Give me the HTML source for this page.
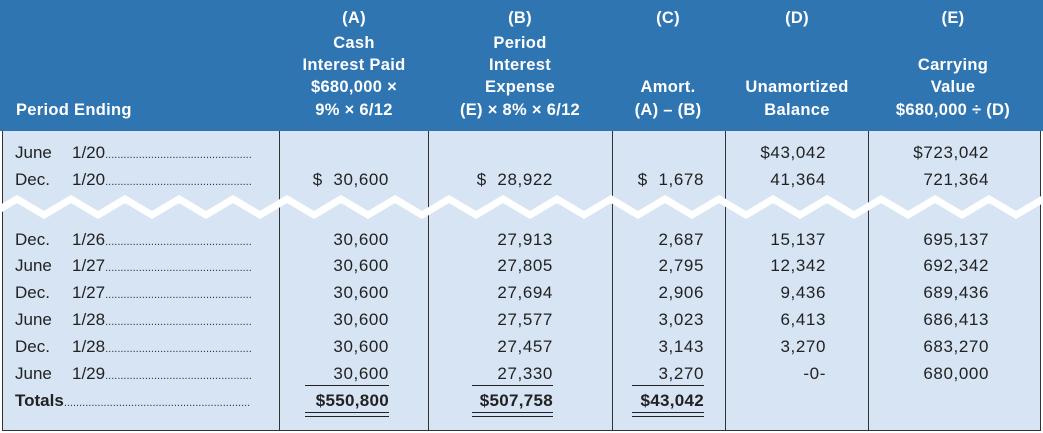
<!DOCTYPE html>
<html><head><meta charset="utf-8"><style>
body{margin:0;width:1043px;height:433px;overflow:hidden;background:#fff;font-family:"Liberation Sans",sans-serif;}
#t{position:absolute;left:0;top:0;width:1043px;height:433px;}
.hdr{position:absolute;left:0;top:0;width:1043px;height:131px;background:#2e75b1;}
.body{position:absolute;left:2px;top:131px;width:1037px;height:299px;background:#d6e4f4;border:1px solid #333;border-top:none;}
.vl{position:absolute;top:131px;height:300px;width:1px;background:#333;}
.h{position:absolute;color:#fff;font-weight:bold;font-size:16.5px;letter-spacing:0.3px;transform:translateX(-50%);white-space:nowrap;}
.c{position:absolute;font-size:17px;letter-spacing:0.6px;color:#222;white-space:nowrap;}
.r{transform:translateX(-100%);}
.lbl{position:absolute;left:15px;font-size:17px;color:#222;width:236px;overflow:hidden;white-space:nowrap;}
.lbl span.d{display:inline-block;width:57px;}
.dots{font-size:11px;color:#333;}
.ul{position:absolute;height:1px;background:#222;}
.dul{position:absolute;height:3px;border-top:1px solid #222;border-bottom:1px solid #222;}
</style></head><body>
<div id="t">
<div class="hdr"></div>
<div class="body"></div>
<div class="vl" style="left:279px"></div>
<div class="vl" style="left:428px"></div>
<div class="vl" style="left:612px"></div>
<div class="vl" style="left:725px"></div>
<div class="vl" style="left:868px"></div>

<div class="h" style="left:16px;top:101px;transform:none">Period Ending</div>

<div class="h" style="left:354px;top:9px">(A)</div>
<div class="h" style="left:354px;top:34px">Cash</div>
<div class="h" style="left:354px;top:56px">Interest Paid</div>
<div class="h" style="left:354px;top:78px">$680,000 ×</div>
<div class="h" style="left:354px;top:101px">9% × 6/12</div>

<div class="h" style="left:520px;top:9px">(B)</div>
<div class="h" style="left:520px;top:34px">Period</div>
<div class="h" style="left:520px;top:56px">Interest</div>
<div class="h" style="left:520px;top:78px">Expense</div>
<div class="h" style="left:520px;top:101px">(E) × 8% × 6/12</div>

<div class="h" style="left:668px;top:9px">(C)</div>
<div class="h" style="left:668px;top:78px">Amort.</div>
<div class="h" style="left:668px;top:101px">(A) – (B)</div>

<div class="h" style="left:797px;top:9px">(D)</div>
<div class="h" style="left:797px;top:78px">Unamortized</div>
<div class="h" style="left:797px;top:101px">Balance</div>

<div class="h" style="left:953px;top:9px">(E)</div>
<div class="h" style="left:953px;top:56px">Carrying</div>
<div class="h" style="left:953px;top:78px">Value</div>
<div class="h" style="left:953px;top:101px">$680,000 ÷ (D)</div>

<svg style="position:absolute;left:0;top:190px" width="1043" height="34">
<polyline id="wave" fill="none" stroke="#fff" stroke-width="7" stroke-linejoin="miter" points=""/>
</svg>
<div id="rows"></div>
</div>
<script>
var pts=[];for(var x=-10,i=0;x<1060;x+=27,i++){pts.push(x+','+(i%2?9:25));}
document.getElementById('wave').setAttribute('points',pts.join(' '));
var rows=[
['June','1/20','','','','$43,042','$723,042',153],
['Dec.','1/20','$ 30,600','$ 28,922','$ 1,678','41,364','721,364',180],
['Dec.','1/26','30,600','27,913','2,687','15,137','695,137',240],
['June','1/27','30,600','27,805','2,795','12,342','692,342',266],
['Dec.','1/27','30,600','27,694','2,906','9,436','689,436',293],
['June','1/28','30,600','27,577','3,023','6,413','686,413',320],
['Dec.','1/28','30,600','27,457','3,143','3,270','683,270',347],
['June','1/29','30,600','27,330','3,270','-0-','680,000',374]];
var rx=[389,553,704,826,989];
var R=document.getElementById('rows');
function add(html,name){var d=document.createElement('div');d.innerHTML=html;var e=d.firstChild;


R.appendChild(e);return e;}
var dots='.'.repeat(80);
rows.forEach(function(r){var y=r[7]-10;
add('<div class="lbl" style="top:'+y+'px"><span class="d">'+r[0]+'</span>'+r[1]+'<span class="dots">'+dots+'</span></div>','row-label');
for(var k=0;k<5;k++){var v=r[2+k];if(!v)continue;
var s=v;if(v.charAt(0)=='$'&&v.indexOf(' ')>0){s=v.replace(' ','&nbsp;&nbsp;');}
add('<div class="c r" style="left:'+rx[k]+'px;top:'+y+'px">'+s+'</div>','cell-value');}
});
add('<div class="lbl" style="top:391px;font-weight:bold">Totals<span class="dots" style="font-weight:normal">'+dots+'</span></div>','totals-label');
var tot=['$550,800','$507,758','$43,042'],tl=[305,472,632];
for(var k=0;k<3;k++){
add('<div class="c r" style="left:'+rx[k]+'px;top:391px;font-weight:bold;letter-spacing:0.3px">'+tot[k]+'</div>','total-value');
add('<div class="ul" style="left:'+tl[k]+'px;width:'+(rx[k]-tl[k])+'px;top:385px"></div>','single-underline');
add('<div class="dul" style="left:'+tl[k]+'px;width:'+(rx[k]-tl[k])+'px;top:412px"></div>','double-underline');
}
</script>
</body></html>
